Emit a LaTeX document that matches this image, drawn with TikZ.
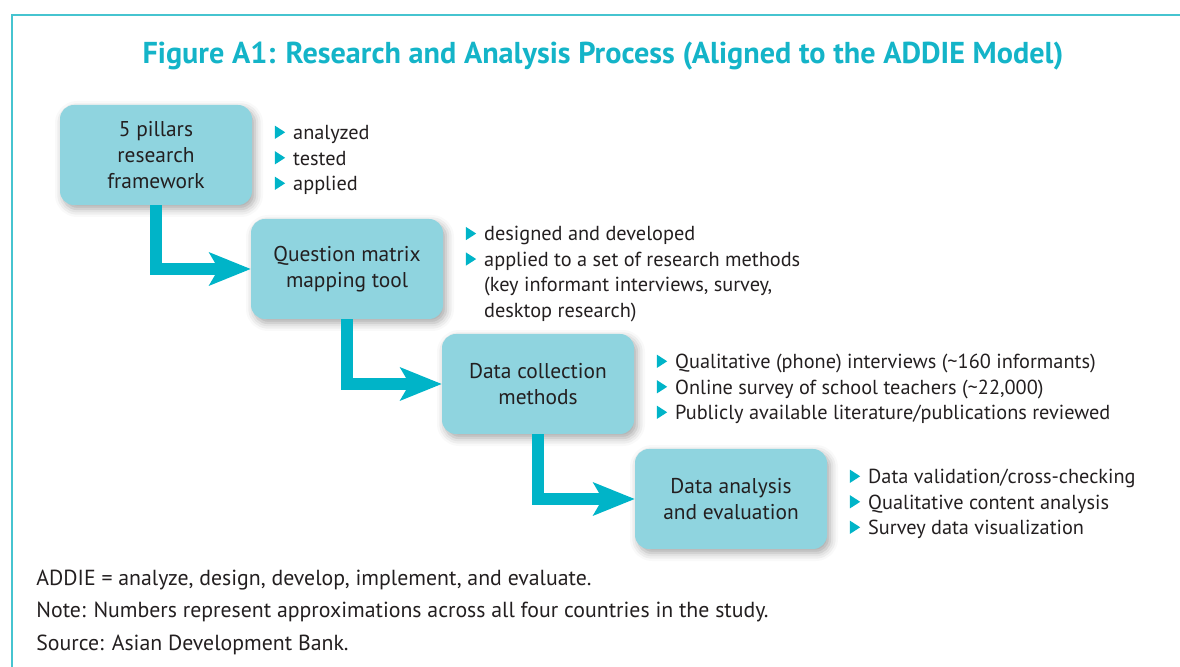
\documentclass[tikz,border=0pt]{standalone}
\usepackage{fontspec}
\setmainfont{PT Sans}
\usepackage{xcolor}
\usetikzlibrary{positioning, arrows.meta, shadows.blur}
\definecolor{boxblue}{RGB}{143, 212, 223}
\definecolor{flowteal}{RGB}{0, 180, 200}
\definecolor{titleteal}{RGB}{20, 180, 200}
\definecolor{frameteal}{RGB}{70, 196, 208}
\definecolor{inkgray}{RGB}{35, 31, 32}
\newcommand{\tri}{\tikz[baseline=0pt]\fill[flowteal] (0pt,0.3pt) -- (0pt,7pt) -- (5.2pt,3.65pt) -- cycle;}

\begin{document}
\begin{tikzpicture}[
    x=0.5pt, y=-0.5pt,
    font=\fontsize{10.15}{12.75}\selectfont, text=inkgray,
    stage/.style={rectangle, rounded corners=7pt, minimum width=96pt, minimum height=50pt, align=center, fill=boxblue, font=\fontsize{10.7}{12.9}\selectfont, blur shadow={shadow xshift=1.5pt, shadow yshift=-2pt, shadow blur radius=4pt, shadow opacity=35}},
    points/.style={anchor=west, inner sep=0pt, yshift=-2.5pt},
    footnote/.style={anchor=base west, inner sep=0pt, font=\fontsize{10.9}{13}\selectfont},
    flow/.style={line width=6pt, draw=flowteal, -{Stealth[length=21pt, width=17pt, inset=5pt, line width=0pt]}}
]
\useasboundingbox (0,0) rectangle (1180,667);

\draw [frameteal, line width=0.75pt] (1180,15) -- (12,15) -- (12,667);

\node (title) at (603,56) [font=\fontsize{15.1}{18}\selectfont\bfseries, text=titleteal] {Figure A1: Research and Analysis Process (Aligned to the ADDIE Model)};

\node (framework) [stage] at (156,155) {5 pillars\\research\\framework};
\node (mapping) [stage] at (347,269) {Question matrix\\mapping tool};
\node (collection) [stage] at (538,384) {Data collection\\methods};
\node (analysis) [stage] at (731,499) {Data analysis\\and evaluation};

\node (frameworkpts) [points, right=11pt of framework] {\begin{tabular}{@{}l@{\hspace{4pt}}l@{}}
\tri & analyzed\\
\tri & tested\\
\tri & applied
\end{tabular}};
\node (mappingpts) [points, right=11pt of mapping] {\begin{tabular}{@{}l@{\hspace{4pt}}l@{}}
\tri & designed and developed\\
\tri & applied to a set of research methods\\
 & (key informant interviews, survey,\\
 & desktop research)
\end{tabular}};
\node (collectionpts) [points, right=11pt of collection] {\begin{tabular}{@{}l@{\hspace{4pt}}l@{}}
\tri & Qualitative (phone) interviews (\textasciitilde 160 informants)\\
\tri & Online survey of school teachers (\textasciitilde 22,000)\\
\tri & Publicly available literature/publications reviewed
\end{tabular}};
\node (analysispts) [points, right=11pt of analysis] {\begin{tabular}{@{}l@{\hspace{4pt}}l@{}}
\tri & Data validation/cross-checking\\
\tri & Qualitative content analysis\\
\tri & Survey data visualization
\end{tabular}};

\draw [flow] (framework.south) |- (mapping.west);
\draw [flow] (mapping.south) |- (collection.west);
\draw [flow] (collection.south) |- (analysis.west);

\node (addie) [footnote] at (36,586) {ADDIE = analyze, design, develop, implement, and evaluate.};
\node (note) [footnote] at (36,618) {Note: Numbers represent approximations across all four countries in the study.};
\node (source) [footnote] at (36,651) {Source: Asian Development Bank.};

\end{tikzpicture}
\end{document}
